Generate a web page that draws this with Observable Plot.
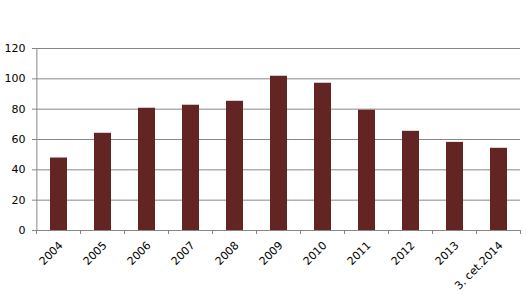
<!DOCTYPE html>
<html>
<head>
<meta charset="utf-8">
<script src="https://cdn.jsdelivr.net/npm/d3@7"></script>
<script src="https://cdn.jsdelivr.net/npm/@observablehq/plot@0.6"></script>
<style>
  html, body { margin: 0; padding: 0; background: #fff; }
  svg { display: block; }
</style>
</head>
<body>
<div id="chart"></div>
<script>
const categories = ["2004","2005","2006","2007","2008","2009","2010","2011","2012","2013","3. cet.2014"];
const values = [47.8, 64.1, 80.6, 82.6, 85.2, 101.7, 97.1, 79.3, 65.4, 58.1, 54.2];
const yTicks = [0, 20, 40, 60, 80, 100, 120];

const data = categories.map((c, i) => ({category: c, value: values[i]}));

const W = 527, H = 295, ML = 36, MR = 7, MT = 48, MB = 65;
const gridColor = "#878787";
const barColor = "#632523";

const chart = Plot.plot({
  width: W,
  height: H,
  marginLeft: ML,
  marginRight: MR,
  marginTop: MT,
  marginBottom: MB,
  style: {fontFamily: "DejaVu Sans, Verdana, sans-serif", fontSize: "11px", color: "#000", background: "#fff", overflow: "visible"},
  x: {domain: categories, paddingInner: 0.62, paddingOuter: 0.31, label: null},
  y: {domain: [0, 120], label: null},
  marks: [
    Plot.ruleY(yTicks, {stroke: gridColor, strokeWidth: 1}),
    Plot.barY(data, {x: "category", y: "value", fill: barColor}),
    Plot.axisY({ticks: yTicks, tickSize: 4, tickPadding: 7, stroke: gridColor, fill: "#000", label: null}),
    Plot.axisX({tickSize: 0, tickRotate: -45, tickPadding: 4, dx: 2, dy: 9, fill: "#000", label: null})
  ]
});

// Axis lines and band-boundary ticks drawn from the chart's own scales
const xs = chart.scale("x");
const ys = chart.scale("y");
const n = categories.length;
const step = xs.step;
const x0 = xs.apply(categories[0]) - xs.paddingOuter * step;
const yBase = ys.apply(0);
const yTop = ys.apply(120);
const svg = d3.select(chart);
const g = svg.append("g").attr("stroke", gridColor).attr("stroke-width", 1);
g.append("line").attr("x1", x0 + 0.5).attr("x2", x0 + 0.5).attr("y1", yTop).attr("y2", yBase);
for (let i = 0; i <= n; i++) {
  const x = Math.round(x0 + i * step) + 0.5;
  g.append("line").attr("x1", x).attr("x2", x).attr("y1", yBase).attr("y2", yBase + 4);
}
document.getElementById("chart").appendChild(chart);
</script>
</body>
</html>
